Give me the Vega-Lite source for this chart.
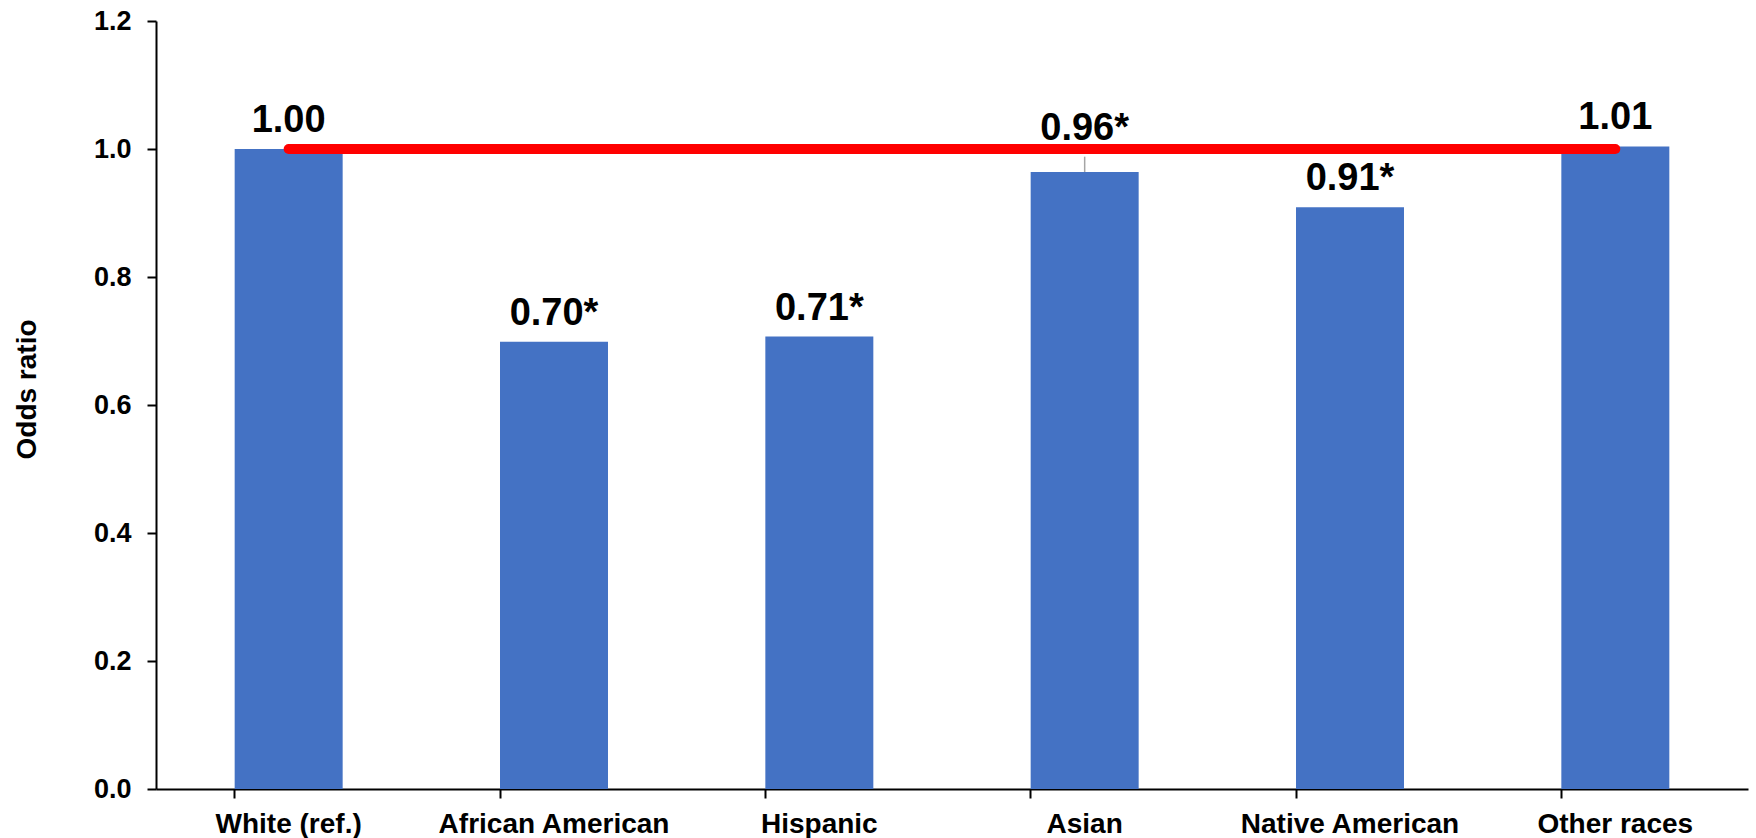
{
  "$schema": "https://vega.github.io/schema/vega-lite/v6.json",
  "width": 1592,
  "height": 768,
  "autosize": {"type": "none"},
  "padding": {"left": 156, "top": 21, "right": 8, "bottom": 49},
  "background": "white",
  "config": {
    "view": {"stroke": null},
    "font": "Liberation Sans",
    "axis": {"grid": false}
  },
  "data": {
    "values": [
      {"group": "White (ref.)", "odds": 1.0, "upper": 1.0, "label": "1.00"},
      {"group": "African American", "odds": 0.699, "upper": 0.699, "label": "0.70*"},
      {"group": "Hispanic", "odds": 0.707, "upper": 0.707, "label": "0.71*"},
      {"group": "Asian", "odds": 0.964, "upper": 0.988, "label": "0.96*"},
      {"group": "Native American", "odds": 0.909, "upper": 0.909, "label": "0.91*"},
      {"group": "Other races", "odds": 1.004, "upper": 1.004, "label": "1.01"}
    ]
  },
  "encoding": {
    "x": {
      "field": "group",
      "type": "nominal",
      "sort": null,
      "scale": {"paddingInner": 0.593, "paddingOuter": 0.2965},
      "axis": {
        "title": null,
        "labelAngle": 0,
        "labelLimit": 0,
        "labelFont": "Liberation Sans",
        "labelFontSize": 28,
        "labelFontWeight": "bold",
        "labelColor": "black",
        "labelPadding": 12,
        "domainColor": "black",
        "domainWidth": 2,
        "tickColor": "black",
        "tickWidth": 2,
        "tickSize": 9,
        "bandPosition": 0
      }
    }
  },
  "layer": [
    {
      "mark": {"type": "rule", "color": "#a5a5a5", "strokeWidth": 1.5},
      "encoding": {
        "y": {"field": "odds", "type": "quantitative"},
        "y2": {"field": "upper"}
      }
    },
    {
      "mark": {"type": "bar", "color": "#4472C4"},
      "encoding": {
        "y": {
          "field": "odds",
          "type": "quantitative",
          "scale": {"domain": [0, 1.2], "nice": false},
          "axis": {
            "title": "Odds ratio",
            "titleFont": "Liberation Sans",
            "titleFontSize": 28,
            "titleFontWeight": "bold",
            "titleColor": "black",
            "titlePadding": 52,
            "titleY": 368,
            "values": [0, 0.2, 0.4, 0.6, 0.8, 1.0, 1.2],
            "format": ".1f",
            "labelFont": "Liberation Sans",
            "labelFontSize": 27,
            "labelFontWeight": "bold",
            "labelColor": "black",
            "labelPadding": 16,
            "domainColor": "black",
            "domainWidth": 2,
            "tickColor": "black",
            "tickWidth": 2,
            "tickSize": 9
          }
        }
      }
    },
    {
      "mark": {
        "type": "text",
        "font": "Liberation Sans",
        "fontSize": 38,
        "fontWeight": "bold",
        "color": "black",
        "baseline": "alphabetic",
        "dy": -17
      },
      "encoding": {
        "y": {"field": "upper", "type": "quantitative"},
        "text": {"field": "label"}
      }
    },
    {
      "data": {
        "values": [
          {"group": "White (ref.)", "ref": 1.0},
          {"group": "Other races", "ref": 1.0}
        ]
      },
      "mark": {"type": "line", "color": "#FF0000", "strokeWidth": 10, "strokeCap": "round"},
      "encoding": {
        "y": {"field": "ref", "type": "quantitative"}
      }
    }
  ]
}
